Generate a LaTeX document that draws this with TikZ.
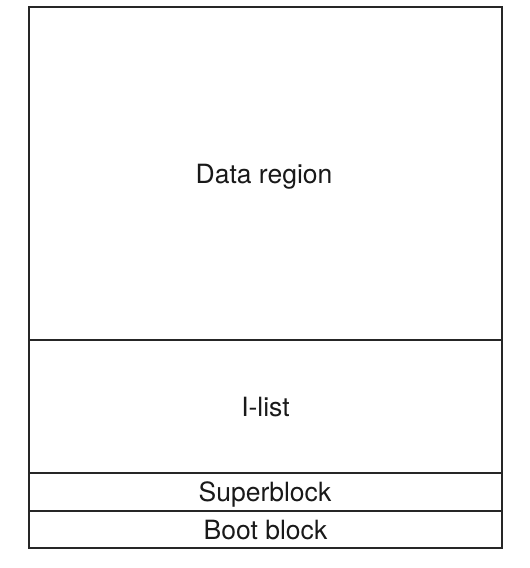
\documentclass[tikz,border=0pt]{standalone}
\usepackage{fontspec}
\setmainfont{TeX Gyre Heros}
\begin{document}
\begin{tikzpicture}[x=1pt,y=-1pt,
  region/.style={draw=black!85,line width=1.4pt},
  lbl/.style={inner sep=0pt,text height=19pt,text depth=0pt,font=\fontsize{26.5}{30}\selectfont,text=black!90}]
\useasboundingbox (0,0) rectangle (530,568);
\draw[region] (29,7) rectangle (502,548);
\draw[region] (29,340) -- (502,340);
\draw[region] (29,473) -- (502,473);
\draw[region] (29,511) -- (502,511);
\node[lbl] (data) at (264,173.5) {Data region};
\node[lbl] (ilist) at (265.5,406.5) {I-list};
\node[lbl] (super) at (265,492) {Superblock};
\node[lbl] (boot) at (265.5,529.5) {Boot block};
\end{tikzpicture}
\end{document}
